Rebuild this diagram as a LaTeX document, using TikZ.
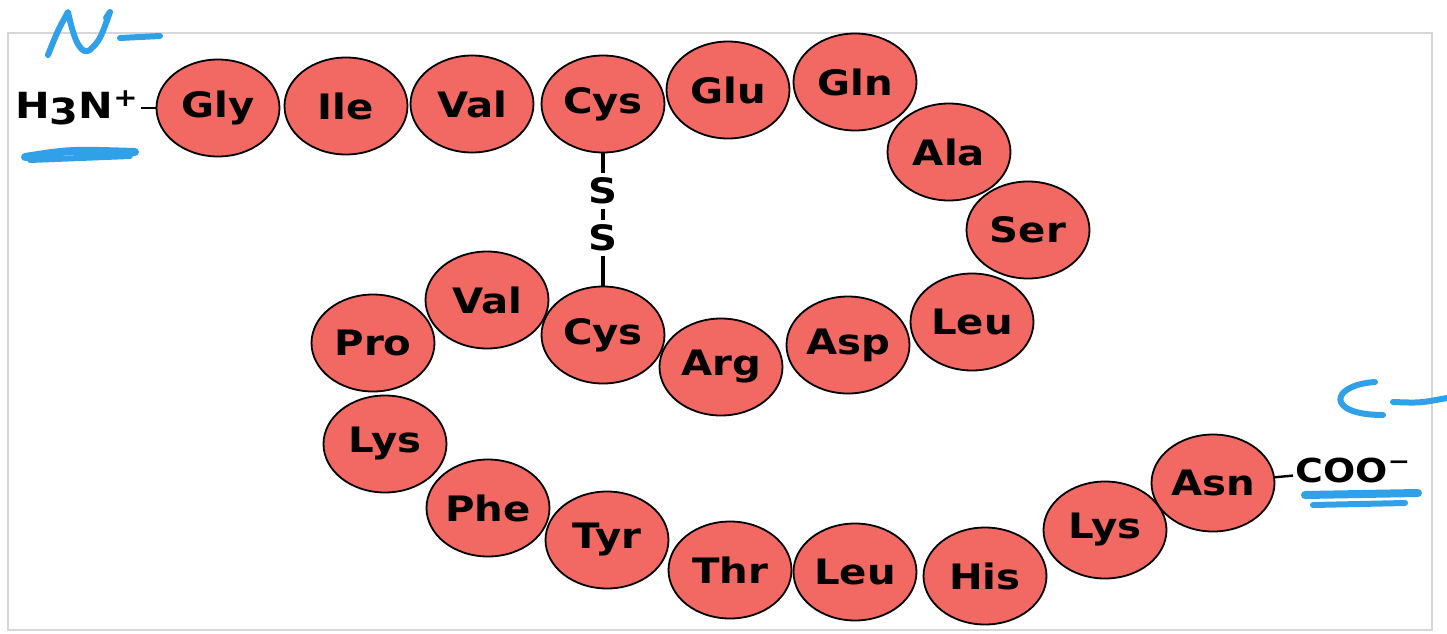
\documentclass[tikz,border=0pt]{standalone}
\usepackage{fontspec}
\setmainfont{DejaVu Sans}
\newfontfamily\resfont{DejaVu Sans}[FakeStretch=1.15]
\usetikzlibrary{shapes.geometric}
\definecolor{salmon}{RGB}{242,104,98}
\definecolor{pen}{RGB}{48,160,232}
\definecolor{frame}{RGB}{215,215,215}

\begin{document}
\begin{tikzpicture}[x=0.5pt,y=-0.5pt,
    res/.style={ellipse,draw=black,line width=0.9pt,fill=salmon,minimum width=61.5pt,minimum height=48.5pt,inner sep=0pt,font=\resfont\bfseries\fontsize{17.5}{17}\selectfont},
    term/.style={inner sep=1pt,font=\resfont\bfseries\fontsize{16.5}{16}\selectfont},
    bond/.style={line width=1.2pt},
    sulf/.style={inner xsep=1pt,inner ysep=2pt,font=\resfont\bfseries\fontsize{17.5}{17}\selectfont},
    ink/.style={pen,line width=3pt,line cap=round,line join=round}]
  \useasboundingbox (0,0) rectangle (1447,633);
  \draw[frame,line width=1pt] (8,33) rectangle (1432,630);
  % residues
  \foreach \n/\x/\y/\t in {gly/218/108/Gly, ile/346/106/Ile, val/472/104/Val, cys/603/104/Cys,
      glu/728/90/Glu, gln/855/82/Gln, ala/949/152/Ala, ser/1028/230/Ser, leu/972/322/Leu,
      asp/848/345/Asp, arg/721/367/Arg, cyst/603/335/Cys, valt/487/300/Val, pro/373/343/Pro,
      lys/385/444/Lys, phe/488/508/Phe, tyr/607/540/Tyr, thr/730/570/Thr, leut/855/572/Leu,
      his/985/576/His, lyst/1105/530/Lys, asn/1213/483/Asn}
    \node[res] (\n) at (\x,\y) {\t};
  % termini
  \node[term,font=\resfont\bfseries\fontsize{18}{17}\selectfont,anchor=east] (nterm) at (141,108) {H\raisebox{-0.3ex}{3}N\textsuperscript{+}};
  \node[term,anchor=west] (cterm) at (1293,470) {COO\textsuperscript{\textminus}};
  \draw[bond] (nterm) -- (gly);
  \draw[bond] (asn) -- (cterm);
  % disulfide bridge
  \node[sulf] (sa) at (603,191) {S};
  \node[sulf] (sb) at (603,238) {S};
  \draw[line width=2pt] (cys) -- (sa);
  \draw[line width=2pt] (sa) -- (sb);
  \draw[line width=2pt] (sb) -- (cyst);
  % handwriting
  \draw[ink] (48,55) .. controls (58,30) .. (68,12) .. controls (75,45) and (82,55) .. (90,50) .. controls (100,40) .. (110,12) -- (106,18);
  \draw[ink] (120,38) -- (160,36);
  \draw[ink,line width=4pt] (25,157) .. controls (70,150) .. (135,152);
  \draw[ink] (30,160) -- (130,156);
  \draw[ink] (1375,382) .. controls (1330,385) and (1325,415) .. (1383,415);
  \draw[ink] (1393,402) .. controls (1420,403) .. (1447,398);
  \draw[ink,line width=4pt] (1305,495) -- (1418,493);
  \draw[ink] (1313,505) -- (1405,503);
\end{tikzpicture}
\end{document}
